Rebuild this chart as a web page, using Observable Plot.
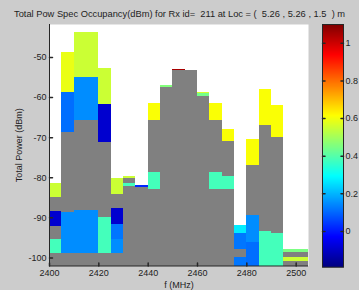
<!DOCTYPE html>
<html><head><meta charset="utf-8">
<script src="https://cdn.jsdelivr.net/npm/d3@7"></script>
<script src="https://cdn.jsdelivr.net/npm/@observablehq/plot@0.6"></script>
<style>
html,body{margin:0;padding:0;background:#cccccc;}
#fig{position:relative;width:359px;height:290px;background:#cccccc;overflow:hidden;font-family:"Liberation Sans",Arial,sans-serif;}
#title{position:absolute;left:14px;top:9px;font-size:9px;line-height:11px;color:#1e1e1e;white-space:pre;}
#main,#cbar{position:absolute;left:0;top:0;}
</style></head><body>
<div id="fig"><div id="title"></div><div id="main"></div><div id="cbar"></div></div>
<script>
const titleText = "Total Pow Spec Occupancy(dBm) for Rx id=  211 at Loc = (  5.26 , 5.26 , 1.5  ) m";
const xLabel = "f (MHz)";
const yLabel = "Total Power (dBm)";
const xTicks = [2400, 2420, 2440, 2460, 2480, 2500];
const yTicks = [-100, -90, -80, -70, -60, -50];
const cTicks = [0, 0.2, 0.4, 0.6, 0.8, 1];
const xDomain = [2400, 2505];
const yDomain = [-102, -41.8];
const cDomain = [-0.19, 1.1];
const binWidth = 5;

// frequency bins (start, MHz) and top of each column (dBm)
const binStart = [2400,2405,2410,2415,2420,2425,2430,2435,2440,2445,2450,2455,2460,2465,2470,2475,2480,2485,2490,2495,2500];
const colTop   = [-81.4,-48.9,-43.8,-43.8,-52.7,-80.3,-79.7,-82.0,-61.5,-57.1,-52.9,-53.3,-58.7,-61.6,-67.9,-92.0,-70.5,-58.1,-62.0,-98.0,-98.0];

// occupancy segments
const segFreq = [2400,2400,2400, 2405,2405,2405, 2410,2410,2410, 2415,2415,2415, 2420,2420,2420, 2425,2425,2425,2425, 2430,2430, 2435, 2440,2440, 2445, 2450, 2460,2460, 2465,2465, 2470,2470, 2475,2475,2475, 2480,2480,2480, 2485,2485, 2490,2490, 2495,2495, 2500,2500];
const segLo   = [-84.9,-92.2,-99.0, -58.7,-68.7,-99.0, -55.1,-65.8,-99.0, -55.1,-65.8,-99.0, -61.8,-71.2,-99.0, -84.1,-91.7,-95.3,-99.0, -80.3,-82.1, -82.4, -65.8,-83.0, -57.6, -53.3, -59.1,-59.7, -65.8,-82.9, -71.0,-82.9, -94.0,-98.0,-102, -77.0,-96.1,-102, -67.0,-102, -69.9,-102, -98.6,-100.8, -98.6,-100.8];
const segHi   = [-81.4,-88.4,-95.5, -48.9,-58.7,-88.6, -43.8,-55.1,-88.1, -43.8,-55.1,-88.1, -52.7,-61.8,-89.9, -80.3,-87.6,-91.7,-95.3, -79.7,-81.5, -82.0, -61.5,-78.7, -57.1, -52.9, -58.7,-59.1, -61.6,-78.7, -67.9,-79.8, -92.0,-94.0,-100, -70.5,-89.5,-96.1, -58.1,-93.4, -62.0,-94.0, -98.0,-100.0, -98.0,-100.0];
const segVal  = [0.55,-0.09,0.38, 0.59,0.11,0.15, 0.55,0.15,0.15, 0.55,0.15,0.15, 0.55,-0.09,0.38, 0.55,-0.09,0.12,0.15, 0.55,0.38, 0.02, 0.61,0.38, 0.46, 1.05, 0.56,0.44, 0.61,0.38, 0.61,0.38, 0.27,0.12,0.12, 0.61,0.15,0.11, 0.61,0.38, 0.61,0.38, 0.45,0.55, 0.45,0.55];

const bins = binStart.map((f, i) => ({f, top: colTop[i]}));
const segs = segFreq.map((f, i) => ({f, lo: segLo[i], hi: segHi[i], v: segVal[i]}));

const clamp = v => Math.max(0, Math.min(1, v));
const jet = t => {
  const r = clamp(Math.min(4*t - 1.5, -4*t + 4.5));
  const g = clamp(Math.min(4*t - 0.5, -4*t + 3.5));
  const b = clamp(Math.min(4*t + 0.5, -4*t + 2.5));
  return `rgb(${Math.round(r*255)},${Math.round(g*255)},${Math.round(b*255)})`;
};
const colorOpts = {type: "linear", domain: cDomain, interpolate: jet};
const tickShape = {draw(context, l) { context.moveTo(0, 0); context.lineTo(0, -l); }};
const axisColor = "#262626";
const fmt = d => String(d);
const font = {background: "transparent", fontFamily: '"Liberation Sans", Arial, sans-serif', fontSize: "9px", color: "#222"};

const titleEl = document.getElementById("title");
titleEl.textContent = titleText;
const targetW = 331;
const w0 = titleEl.getBoundingClientRect().width;
if (w0 > 0) titleEl.style.fontSize = (9 * targetW / w0).toFixed(2) + "px";

const main = Plot.plot({
  width: 359, height: 290,
  marginLeft: 49, marginRight: 51, marginTop: 24, marginBottom: 24.5,
  style: font,
  x: {domain: xDomain},
  y: {domain: yDomain},
  color: colorOpts,
  marks: [
    Plot.frame({fill: "white", stroke: "none"}),
    Plot.rect(bins, {x1: "f", x2: d => d.f + binWidth, y1: yDomain[0], y2: "top", fill: "#808080", shapeRendering: "crispEdges"}),
    Plot.rect(segs, {x1: "f", x2: d => d.f + binWidth, y1: "lo", y2: "hi", fill: "v", shapeRendering: "crispEdges"}),
    Plot.axisX({ticks: xTicks, tickFormat: fmt, tickSize: 0, tickPadding: 4, label: xLabel, labelAnchor: "center", labelArrow: "none", labelOffset: 22, fill: "#222"}),
    Plot.axisY({ticks: yTicks, tickFormat: fmt, tickSize: 0, tickPadding: 3, label: yLabel, labelAnchor: "center", labelArrow: "none", labelOffset: 34, fill: "#222"}),
    Plot.vector(yTicks, {x: xDomain[0], y: d => d, length: 3, rotate: 90, anchor: "start", shape: tickShape, stroke: axisColor}),
    Plot.vector(xTicks, {x: d => d, y: yDomain[0], length: 3, rotate: 0, anchor: "start", shape: tickShape, stroke: axisColor}),
    Plot.ruleX([xDomain[0]], {stroke: axisColor}),
    Plot.ruleY([yDomain[0]], {stroke: axisColor})
  ]
});
document.getElementById("main").append(main);

const cbar = Plot.plot({
  width: 359, height: 290,
  marginLeft: 322, marginRight: 16, marginTop: 24, marginBottom: 23.3,
  style: font,
  x: {domain: [0, 1], axis: null},
  y: {domain: cDomain, axis: null},
  color: colorOpts,
  marks: [
    Plot.raster({fill: (x, y) => y, x1: 0, x2: 1, y1: cDomain[0], y2: cDomain[1], width: 1, height: 256, imageRendering: "auto"}),
    Plot.axisY({anchor: "right", ticks: cTicks, tickFormat: fmt, tickSize: 0, tickPadding: 2, label: null, fill: "#222"}),
    Plot.vector(cTicks, {x: 0, y: d => d, length: 2.5, rotate: 90, anchor: "start", shape: tickShape, stroke: axisColor}),
    Plot.vector(cTicks, {x: 1, y: d => d, length: 2.5, rotate: -90, anchor: "start", shape: tickShape, stroke: axisColor}),
    Plot.frame({stroke: axisColor})
  ]
});
document.getElementById("cbar").append(cbar);
</script>
</body></html>
